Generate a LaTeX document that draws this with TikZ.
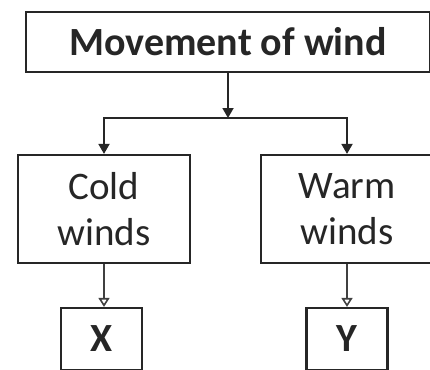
\documentclass[tikz,border=0pt]{standalone}
\usepackage{fontspec}
\setmainfont{Carlito}
\usetikzlibrary{arrows.meta}
\begin{document}
\begin{tikzpicture}[x=1pt,y=-1pt,
  box/.style={draw=black!85, line width=2.2pt, inner sep=0pt, align=center, text=black!85},
  arr/.style={draw=black!85, line width=1.8pt, -{Triangle[length=10pt,width=11pt]}},
  arro/.style={draw=black!75, line width=1.6pt, -{Triangle[open,length=9pt,width=11pt]}}]
\path[use as bounding box, clip] (0,0) rectangle (430,369);
\fill[white] (0,0) rectangle (430,369);
\node[box, minimum width=404pt, minimum height=60pt, font=\fontsize{40}{44}\selectfont\bfseries] (top) at (228,42) {Movement of wind};
\node[box, minimum width=172pt, minimum height=108pt, font=\fontsize{39}{46}\selectfont] (cold) at (104,209) {Cold\\winds};
\node[box, minimum width=172pt, minimum height=108pt, font=\fontsize{39}{46}\selectfont] (warm) at (347,209) {Warm\\winds};
\node[box, minimum width=81pt, minimum height=62pt, font=\fontsize{40}{44}\selectfont\bfseries] (xb) at (101.5,339) {X};
\node[box, minimum width=81pt, minimum height=62pt, font=\fontsize{40}{44}\selectfont\bfseries] (yb) at (347,339) {Y};
\coordinate (j) at (228,118);
\draw[arr] (top.south -| j) -- (j);
\draw[arr] (j) -| (cold.north);
\draw[arr] (j) -| (warm.north);
\draw[arro] (cold.south) -- (cold.south |- xb.north);
\draw[arro] (warm.south) -- (warm.south |- yb.north);
\end{tikzpicture}
\end{document}
